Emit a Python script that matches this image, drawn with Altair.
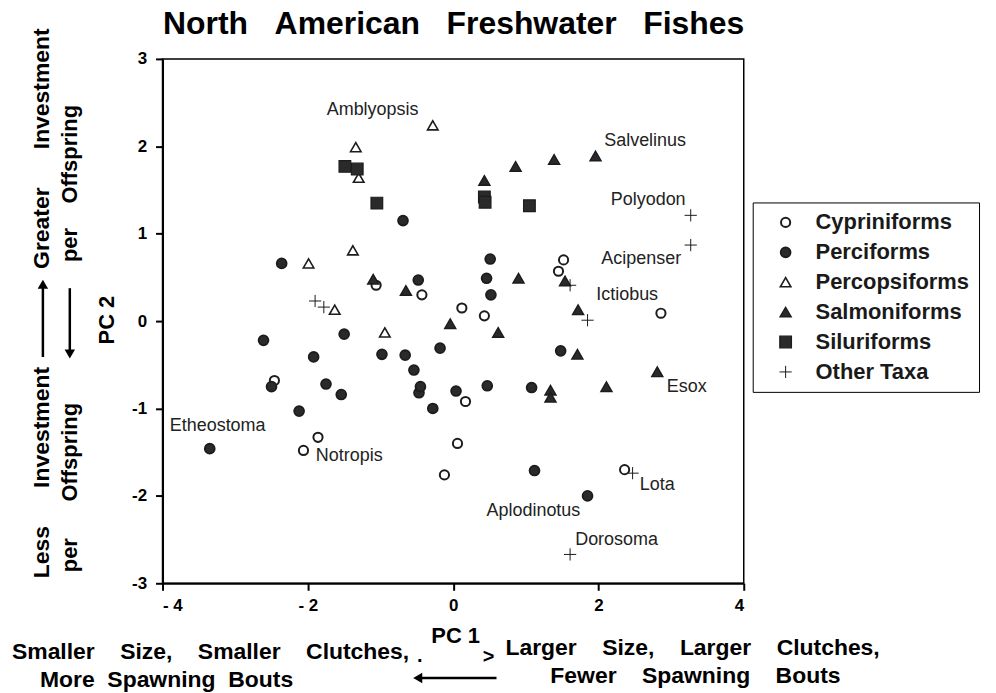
import altair as alt
import pandas as pd

# ---------------- data ----------------
groups = ["Cypriniforms", "Perciforms", "Percopsiforms", "Salmoniforms", "Siluriforms", "Other Taxa"]

cyp_x = [1.52, 1.45, -0.43, -1.06, 0.12, 0.43, 2.86, -2.46, -1.86, -2.06, -0.12, 0.17, 0.06, 2.36]
cyp_y = [0.70, 0.57, 0.30, 0.41, 0.15, 0.06, 0.09, -0.68, -1.33, -1.48, -1.76, -0.92, -1.40, -1.70]

per_x = [-0.69, -2.36, -0.48, 0.51, 0.46, 0.52, -1.50, -2.61, -1.92, -0.98, -0.66, -0.18, -0.54,
         -0.47, -0.45, -2.50, -1.75, -1.54, -2.12, -0.28, -3.35, 1.48, 0.04, 0.47, 1.08, 1.12, 1.85]
per_y = [1.15, 0.66, 0.47, 0.71, 0.49, 0.30, -0.15, -0.22, -0.41, -0.38, -0.39, -0.31, -0.56,
         -0.82, -0.75, -0.75, -0.72, -0.84, -1.03, -1.00, -1.46, -0.34, -0.80, -0.74, -0.76, -1.71, -2.00]

pcp_x = [-0.28, -1.34, -1.30, -1.38, -1.99, -1.63, -0.94]
pcp_y = [2.24, 1.99, 1.64, 0.81, 0.66, 0.13, -0.13]

sal_x = [-1.10, -0.65, 0.43, 0.86, 1.39, 1.96, 0.90, 1.54, 1.72, -0.04, 0.62, 1.71, 2.81, 2.11, 1.34, 1.34]
sal_y = [0.48, 0.35, 1.61, 1.77, 1.85, 1.89, 0.49, 0.46, 0.13, -0.03, -0.13, -0.38, -0.58, -0.75, -0.79, -0.87]

sil_x = [-1.49, -1.32, -1.05, 0.43, 0.44, 1.05]
sil_y = [1.77, 1.74, 1.35, 1.42, 1.36, 1.32]

oth_x = [-1.90, -1.78, 3.27, 3.27, 1.61, 1.85, 2.47, 1.61]
oth_y = [0.23, 0.16, 1.21, 0.87, 0.41, 0.01, -1.74, -2.67]

label_text = ["Amblyopsis", "Salvelinus", "Polyodon", "Acipenser", "Ictiobus", "Esox",
              "Lota", "Aplodinotus", "Dorosoma", "Etheostoma", "Notropis"]
label_x = [-1.74, 2.08, 2.17, 2.04, 1.97, 2.94, 2.57, 0.46, 1.68, -3.90, -1.89]
label_y = [2.41, 2.06, 1.38, 0.71, 0.30, -0.76, -1.88, -2.17, -2.51, -1.20, -1.54]

x_ticks = [-4, -2, 0, 2, 4]
y_ticks = [-3, -2, -1, 0, 1, 2, 3]

# ---------------- tables ----------------
rows = []
for g, xs, ys in zip(groups, [cyp_x, per_x, pcp_x, sal_x, sil_x, oth_x],
                     [cyp_y, per_y, pcp_y, sal_y, sil_y, oth_y]):
    for a, b in zip(xs, ys):
        rows.append({"group": g, "pc1": a, "pc2": b})
pts = pd.DataFrame(rows)
labels = pd.DataFrame({"name": label_text, "pc1": label_x, "pc2": label_y})
one = pd.DataFrame({"k": [0]})

FONT = "Liberation Sans"
INK = "#1c1c1c"


def sp(n):
    return " " + "\u00a0" * (n - 1)


shape_range = ["circle", "circle", "triangle-up", "triangle-up", "square", "M-1,0L1,0M0,-1L0,1"]
fill_range = ["white", "#2a2a2a", "white", "#2a2a2a", "#2a2a2a", "transparent"]
stroke_range = [INK] * 6
size_range = [85, 150, 95, 150, 48, 170]
sw_range = [2, 1, 2, 1, 1, 1.6]

xscale = alt.Scale(domain=[-4, 4], nice=False, zero=False)
yscale = alt.Scale(domain=[-3, 3], nice=False, zero=False)

axis_common = dict(grid=False, domainColor="black", domainWidth=2, tickColor="black",
                   tickWidth=2, tickSize=7, labelFont=FONT, labelFontWeight="bold",
                   labelFontSize=17, labelColor="black", title=None)

x_enc = alt.X("pc1:Q", scale=xscale,
              axis=alt.Axis(values=x_ticks, labelPadding=7,
                            labelExpr="datum.value < 0 ? '- ' + abs(datum.value) : '' + datum.value",
                            **axis_common))
y_enc = alt.Y("pc2:Q", scale=yscale,
              axis=alt.Axis(values=y_ticks, labelPadding=9,
                            labelExpr="datum.value < 0 ? '-' + abs(datum.value) : '' + datum.value",
                            **axis_common))

leg = alt.Legend(title=None)
points = alt.Chart(pts).mark_point(filled=False, opacity=1).encode(
    x=x_enc,
    y=y_enc,
    shape=alt.Shape("group:N", scale=alt.Scale(domain=groups, range=shape_range), legend=leg),
    fill=alt.Fill("group:N", scale=alt.Scale(domain=groups, range=fill_range), legend=leg),
    stroke=alt.Stroke("group:N", scale=alt.Scale(domain=groups, range=stroke_range), legend=leg),
    size=alt.Size("group:N", scale=alt.Scale(domain=groups, range=size_range), legend=leg),
    strokeWidth=alt.StrokeWidth("group:N", scale=alt.Scale(domain=groups, range=sw_range), legend=leg),
)

names = alt.Chart(labels).mark_text(align="left", baseline="middle", font=FONT,
                                    fontSize=18, color="#222").encode(
    x=alt.X("pc1:Q", scale=xscale), y=alt.Y("pc2:Q", scale=yscale), text="name:N")


def txt(s, x, y, size=19, angle=0, align="center", weight="bold"):
    kw = dict(align=align, baseline="middle", font=FONT, fontSize=size,
              fontWeight=weight, color="black")
    if angle:
        kw["angle"] = angle
    return alt.Chart(one).mark_text(**kw).encode(x=alt.value(x), y=alt.value(y), text=alt.value(s))


def rule(x1, y1, x2, y2):
    return alt.Chart(one).mark_rule(color="black", strokeWidth=2.5).encode(
        x=alt.value(x1), y=alt.value(y1), x2=alt.value(x2), y2=alt.value(y2))


def head(x, y, shape):
    return alt.Chart(one).mark_point(shape=shape, filled=True, color="black", size=110,
                                     opacity=1).encode(x=alt.value(x), y=alt.value(y))


annots = [
    txt("North" + sp(3) + "American" + sp(3) + "Freshwater" + sp(3) + "Fishes", 292, -35, 32),
    txt("Greater" + sp(6) + "Investment", -121, 90, 23, 270),
    txt("Less" + sp(6) + "Investment", -121, 415, 23, 270),
    txt("per" + sp(4) + "Offspring", -93, 125, 22, 270),
    txt("per" + sp(6) + "Offspring", -93, 430, 22, 270),
    txt("PC 2", -56, 262, 22, 270),
    rule(-120, 299, -120, 228),
    head(-120, 226, "triangle-up"),
    rule(-93, 230, -93, 292),
    head(-93, 296, "triangle-down"),
    txt("PC 1", 294, 579, 22),
    txt("Smaller" + sp(4) + "Size," + sp(4) + "Smaller" + sp(4) + "Clutches,", -151, 595, 23, align="left"),
    txt(".", 258, 599, 20),
    txt(">", 327, 600, 20),
    txt("More" + sp(2) + "Spawning" + sp(2) + "Bouts", -123, 623, 23, align="left"),
    txt("Larger" + sp(4) + "Size," + sp(4) + "Larger" + sp(4) + "Clutches,", 344, 591, 23, align="left"),
    txt("Fewer" + sp(4) + "Spawning" + sp(4) + "Bouts", 389, 619, 23, align="left"),
    rule(335, 621, 258, 621),
    head(256, 621, "triangle-left"),
]

chart = alt.layer(points, names, *annots).properties(
    width=583,
    height=526,
    background="white",
    autosize=alt.AutoSizeParams(type="none"),
    padding={"left": 155, "top": 50, "right": 245, "bottom": 108},
).configure_view(stroke="black", strokeWidth=1.5).configure_legend(
    orient="none", legendX=592, legendY=144, strokeColor="black", padding=9,
    labelFont=FONT, labelFontSize=22, labelFontWeight="bold", labelColor="#1a1a1a",
    rowPadding=8, symbolOffset=13, labelOffset=19,
)

chart.save("out.html", embed_options={"renderer": "svg", "actions": False})
